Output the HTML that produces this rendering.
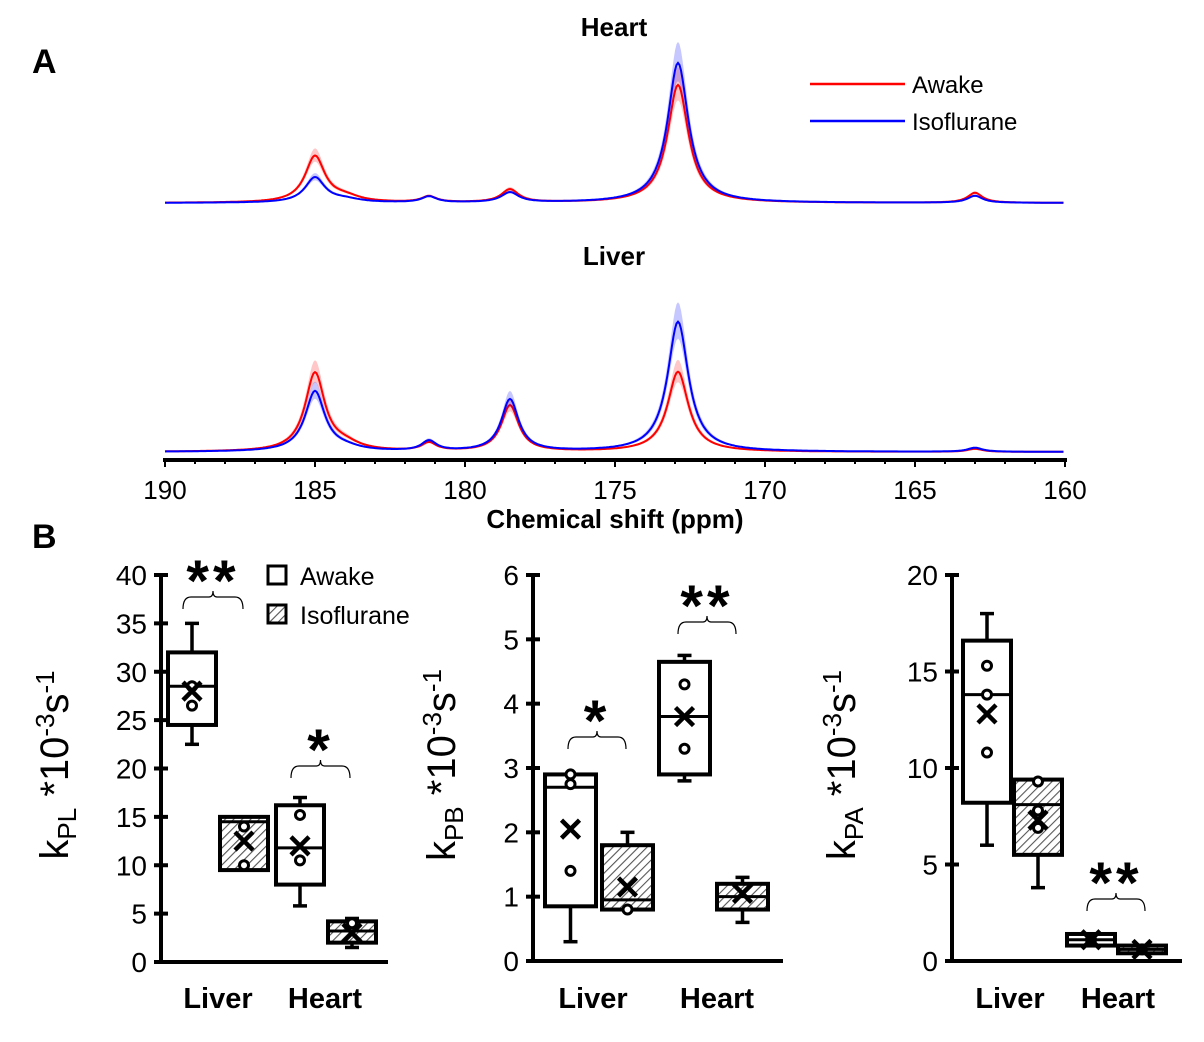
<!DOCTYPE html>
<html><head><meta charset="utf-8"><style>
body{margin:0;background:#fff}
svg{display:block;font-family:"Liberation Sans",sans-serif}
</style></head><body>
<svg id="fig" width="1204" height="1042" viewBox="0 0 1204 1042">
<defs>
<pattern id="hatch" width="6" height="6" patternUnits="userSpaceOnUse" patternTransform="rotate(45)">
<rect width="6" height="6" fill="#fff"/><line x1="0" y1="0" x2="0" y2="6" stroke="#555" stroke-width="2.2"/>
</pattern>
</defs>
<text x="32" y="73" font-size="34" font-weight="bold">A</text>
<text x="32" y="548" font-size="34" font-weight="bold">B</text>
<text x="614" y="36" font-size="26" font-weight="bold" text-anchor="middle">Heart</text>
<text x="614" y="265" font-size="26" font-weight="bold" text-anchor="middle">Liver</text>
<g>
<line x1="810" y1="84" x2="905" y2="84" stroke="#f00" stroke-width="2.5"/>
<text x="912" y="93" font-size="24">Awake</text>
<line x1="810" y1="121" x2="905" y2="121" stroke="#00f" stroke-width="2.5"/>
<text x="912" y="130" font-size="24">Isoflurane</text>
</g>
<g id="spectra"></g>
<g id="xaxisA"></g>
<text x="615" y="528" font-size="26" font-weight="bold" text-anchor="middle">Chemical shift (ppm)</text>
<g id="boxes"></g>
<g>
<rect x="268" y="566" width="18" height="18" fill="#fff" stroke="#000" stroke-width="3"/>
<text x="300" y="585" font-size="25">Awake</text>
<rect x="268" y="605" width="18" height="18" fill="url(#hatch)" stroke="#000" stroke-width="3"/>
<text x="300" y="624" font-size="25">Isoflurane</text>
</g>
</svg>
<script>
// ---- Panel A data ----
const ppmTicks = [190,185,180,175,170,165,160];
const peakPos = [185.0, 184.0, 181.2, 178.5, 172.9, 163.0];
const peakWidth = [0.4, 0.6, 0.3, 0.35, 0.42, 0.3];
const heartAwake = [46, 5, 6, 13, 118, 10];
const heartIso = [25, 3, 6, 10, 140, 7];
const liverAwake = [78, 6, 8, 46, 80, 3];
const liverIso = [60, 3, 10, 52, 130, 4];

// ---- Panel B data ----
const groups = ["Liver","Heart"];
// [q1, median, q3, whiskerLow, whiskerHigh, mean]
const kplAwake = [[24.5,28.5,32,22.5,35,28],[8,11.8,16.2,5.8,17,12]];
const kplIso = [[9.5,14.5,15,9.5,15,12.5],[2,3.2,4.2,1.5,4.5,3]];
const kplAwakePts = [[26.5,28.5],[15.2,10.5]];
const kplIsoPts = [[14,10],[4]];
const kpbAwake = [[0.85,2.7,2.9,0.3,2.9,2.05],[2.9,3.8,4.65,2.8,4.75,3.8]];
const kpbIso = [[0.8,0.95,1.8,0.8,2.0,1.15],[0.8,1.0,1.2,0.6,1.3,1.05]];
const kpbAwakePts = [[2.9,2.75,1.4],[4.3,3.3]];
const kpbIsoPts = [[0.8],[]];
const kpaAwake = [[8.2,13.8,16.6,6,18,12.8],[0.8,1.1,1.4,0.8,1.4,1.1]];
const kpaIso = [[5.5,8.1,9.4,3.8,9.4,7.3],[0.4,0.6,0.8,0.4,0.8,0.6]];
const kpaAwakePts = [[15.3,13.8,10.8],[1.1]];
const kpaIsoPts = [[9.3,7.8,6.9],[0.6]];
const kplTicks = [0,5,10,15,20,25,30,35,40];
const kpbTicks = [0,1,2,3,4,5,6];
const kpaTicks = [0,5,10,15,20];

const NS="http://www.w3.org/2000/svg";
function mk(tag, attrs, parent){const e=document.createElementNS(NS,tag);for(const k in attrs)e.setAttribute(k,attrs[k]);parent.appendChild(e);return e;}

// spectra
const xPpm = p => 165 + (190 - p) * 30;
function spec(heights, p){let s=0;for(let i=0;i<peakPos.length;i++){const d=(p-peakPos[i])/peakWidth[i];s+=heights[i]/(1+d*d);}return s;}
const spG=document.getElementById('spectra');
function drawSpec(heights, base, color, name){
  const lo=[],hi=[],mid=[];
  for(let p=190;p>=160;p-=0.05){const v=spec(heights,p);const x=xPpm(p).toFixed(1);
    mid.push(x+','+(base-v).toFixed(1));hi.push(x+','+(base-v*1.15).toFixed(1));lo.push(x+','+(base-v*0.87).toFixed(1));}
  const band=mk('polygon',{points:hi.concat(lo.reverse()).join(' '),fill:color,opacity:0.22},spG);
  
  
  const l=mk('polyline',{points:mid.join(' '),fill:'none',stroke:color,'stroke-width':2},spG);
  
  
}
drawSpec(heartAwake,203,'#f00','heart-awake');
drawSpec(heartIso,203,'#00f','heart-iso');
drawSpec(liverAwake,452,'#f00','liver-awake');
drawSpec(liverIso,452,'#00f','liver-iso');
const ax=document.getElementById('xaxisA');
mk('line',{x1:163,y1:460,x2:1067,y2:460,stroke:'#000','stroke-width':4},ax);
for(let p=190;p>=160;p--){mk('line',{x1:xPpm(p),y1:458,x2:xPpm(p),y2:p%5===0?467:464,stroke:'#000','stroke-width':2},ax);}
ppmTicks.forEach(p=>{const t=mk('text',{x:xPpm(p),y:499,'font-size':26,'text-anchor':'middle'},ax);t.textContent=p;
  
  });

// box plots
const bG=document.getElementById('boxes');
function panel(cfg){
  const g=mk('g',{},bG);
  
  
  const y=v=>cfg.y0-(v/cfg.max)*(cfg.y0-cfg.yTop);
  mk('line',{x1:cfg.ax,y1:cfg.yTop,x2:cfg.ax,y2:cfg.y0+2,stroke:'#000','stroke-width':4},g);
  mk('line',{x1:cfg.ax-2,y1:cfg.y0,x2:cfg.xEnd,y2:cfg.y0,stroke:'#000','stroke-width':4},g);
  cfg.ticks.forEach(t=>{mk('line',{x1:cfg.ax-7,y1:y(t),x2:cfg.ax+7,y2:y(t),stroke:'#000','stroke-width':4},g);
    const tx=mk('text',{x:cfg.ax-14,y:y(t)+10,'font-size':28,'text-anchor':'end'},g);tx.textContent=t;
    
    });
  const series=[[cfg.awake,cfg.awakePts,'#fff','awake'],[cfg.iso,cfg.isoPts,'url(#hatch)','iso']];
  for(let gi=0;gi<2;gi++){
    for(let si=0;si<2;si++){
      const d=series[si][0][gi], x=cfg.boxX[gi][si], w=cfg.bw, cx=x+w/2;
      const bx=mk('g',{},g);
      
      
      mk('line',{x1:cx,y1:y(d[3]),x2:cx,y2:y(d[0]),stroke:'#000','stroke-width':3.5},bx);
      mk('line',{x1:cx,y1:y(d[4]),x2:cx,y2:y(d[2]),stroke:'#000','stroke-width':3.5},bx);
      mk('line',{x1:cx-7,y1:y(d[3]),x2:cx+7,y2:y(d[3]),stroke:'#000','stroke-width':3.5},bx);
      mk('line',{x1:cx-7,y1:y(d[4]),x2:cx+7,y2:y(d[4]),stroke:'#000','stroke-width':3.5},bx);
      mk('rect',{x:x,y:y(d[2]),width:w,height:Math.max(2,y(d[0])-y(d[2])),fill:series[si][2],stroke:'#000','stroke-width':4},bx);
      mk('line',{x1:x,y1:y(d[1]),x2:x+w,y2:y(d[1]),stroke:'#000','stroke-width':3},bx);
      series[si][1][gi].forEach(p=>mk('circle',{cx:cx,cy:y(p),r:4.5,fill:'#fff',stroke:'#000','stroke-width':3},bx));
      const m=y(d[5]);
      mk('path',{d:`M${cx-9} ${m-9}L${cx+9} ${m+9}M${cx+9} ${m-9}L${cx-9} ${m+9}`,stroke:'#000','stroke-width':4.5},bx);
    }
    const lt=mk('text',{x:cfg.labelX[gi],y:1008,'font-size':29,'font-weight':'bold','text-anchor':'middle'},g);
    lt.textContent=groups[gi];
    
    
  }
  cfg.sig.forEach(s=>{
    const [x1,x2,by,txt]=s, mx=(x1+x2)/2;
    mk('path',{d:`M${x1} ${by+12}Q${x1} ${by} ${x1+8} ${by}L${mx-4} ${by}Q${mx} ${by} ${mx} ${by-6}Q${mx} ${by} ${mx+4} ${by}L${x2-8} ${by}Q${x2} ${by} ${x2} ${by+12}`,fill:'none',stroke:'#000','stroke-width':1.2},g);
    const st=mk('text',{x:mx,y:by+4,'font-size':58,'text-anchor':'middle','letter-spacing':'4','font-weight':'bold'},g);st.textContent=txt;
    
    
  });
  const tt=mk('text',{transform:`translate(${cfg.titleX},765) rotate(-90)`,'font-size':40,'text-anchor':'middle'},g);
  tt.innerHTML='k<tspan font-size="26" dy="8">'+cfg.sub+'</tspan><tspan dy="-8"> *10</tspan><tspan font-size="26" dy="-14">-3</tspan><tspan dy="14">s</tspan><tspan font-size="26" dy="-14">-1</tspan>';
  
  
}
panel({name:'kpl',ax:161,yTop:575,y0:962,max:40,xEnd:388,ticks:kplTicks,awake:kplAwake,iso:kplIso,awakePts:kplAwakePts,isoPts:kplIsoPts,
  boxX:[[168,220],[276,328]],bw:48,labelX:[218,325],sub:'PL',titleX:68,sig:[[183,243,597,'**'],[291,350,766,'*']]});
panel({name:'kpb',ax:533,yTop:575,y0:961,max:6,xEnd:783,ticks:kpbTicks,awake:kpbAwake,iso:kpbIso,awakePts:kpbAwakePts,isoPts:kpbIsoPts,
  boxX:[[545,602],[659,717]],bw:51,labelX:[593,717],sub:'PB',titleX:455,sig:[[568,626,737,'*'],[678,736,622,'**']]});
panel({name:'kpa',ax:952,yTop:575,y0:961,max:20,xEnd:1182,ticks:kpaTicks,awake:kpaAwake,iso:kpaIso,awakePts:kpaAwakePts,isoPts:kpaIsoPts,
  boxX:[[963,1014],[1067,1118]],bw:48,labelX:[1010,1118],sub:'PA',titleX:855,sig:[[1087,1145,899,'**']]});
</script>
</body></html>
